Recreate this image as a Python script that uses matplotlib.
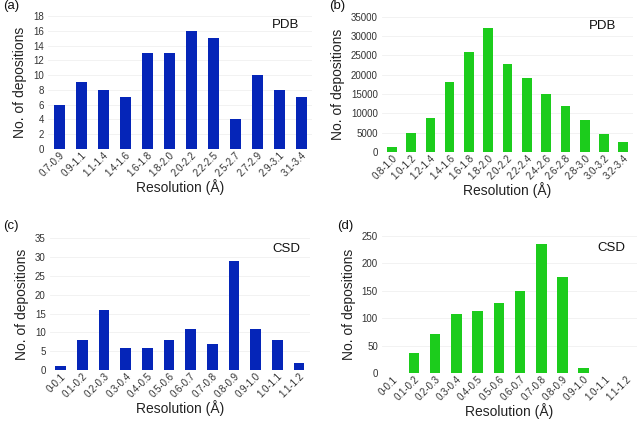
import matplotlib
matplotlib.use("Agg")
import matplotlib.pyplot as plt

plt.rcParams["font.family"] = ["Liberation Sans", "DejaVu Sans"]

BLUE = "#0525b8"
GREEN = "#1ccc1c"

# (a) PDB, small set
pdb_a_labels = ["0.7-0.9", "0.9-1.1", "1.1-1.4", "1.4-1.6", "1.6-1.8", "1.8-2.0",
                "2.0-2.2", "2.2-2.5", "2.5-2.7", "2.7-2.9", "2.9-3.1", "3.1-3.4"]
pdb_a_counts = [6, 9, 8, 7, 13, 13, 16, 15, 4, 10, 8, 7]

# (b) PDB, all
pdb_b_labels = ["0.8-1.0", "1.0-1.2", "1.2-1.4", "1.4-1.6", "1.6-1.8", "1.8-2.0",
                "2.0-2.2", "2.2-2.4", "2.4-2.6", "2.6-2.8", "2.8-3.0", "3.0-3.2",
                "3.2-3.4"]
pdb_b_counts = [1300, 5000, 8800, 18000, 25800, 32200, 22700, 19200, 15100,
                12000, 8300, 4600, 2500]

# (c) CSD, small set
csd_labels = ["0-0.1", "0.1-0.2", "0.2-0.3", "0.3-0.4", "0.4-0.5", "0.5-0.6",
              "0.6-0.7", "0.7-0.8", "0.8-0.9", "0.9-1.0", "1.0-1.1", "1.1-1.2"]
csd_c_counts = [1, 8, 16, 6, 6, 8, 11, 7, 29, 11, 8, 2]

# (d) CSD, all
csd_d_counts = [1, 36, 71, 108, 113, 128, 150, 235, 175, 9, 0, 1]

fig = plt.figure(figsize=(6.4, 4.23), dpi=100)

panels = [
    # rect, labels, counts, color, yticks, tag, db, tag_xy, db_xy
    ([0.075, 0.648, 0.4125, 0.314], pdb_a_labels, pdb_a_counts, BLUE,
     range(0, 19, 2), "(a)", "PDB", (0.005, 0.985), (0.90, 0.93)),
    ([0.597, 0.641, 0.392, 0.319], pdb_b_labels, pdb_b_counts, GREEN,
     range(0, 35001, 5000), "(b)", "PDB", (0.515, 0.985), (0.88, 0.93)),
    ([0.078, 0.125, 0.406, 0.312], csd_labels, csd_c_counts, BLUE,
     range(0, 36, 5), "(c)", "CSD", (0.005, 0.466), (0.91, 0.92)),
    ([0.597, 0.118, 0.398, 0.324], csd_labels, csd_d_counts, GREEN,
     range(0, 251, 50), "(d)", "CSD", (0.527, 0.466), (0.90, 0.91)),
]

for rect, labels, counts, color, yticks, tag, db, tag_xy, db_xy in panels:
    ax = fig.add_axes(rect)
    x = range(len(labels))
    ax.bar(x, counts, width=0.5, color=color, zorder=2)
    ax.set_xlim(-0.5, len(labels) - 0.5)
    ax.set_ylim(0, max(yticks))
    ax.set_yticks(list(yticks))
    ax.set_xticks(list(x))
    ax.set_xticklabels(labels, rotation=45, ha="right", rotation_mode="anchor",
                       fontsize=7, color="#333333")
    ax.tick_params(axis="y", labelsize=7, labelcolor="#333333", length=0, pad=3)
    ax.tick_params(axis="x", length=0, pad=1)
    ax.grid(axis="y", color="#f0f0f0", linewidth=0.6, zorder=0)
    for s in ax.spines.values():
        s.set_visible(False)
    ax.set_ylabel("No. of depositions", fontsize=10, color="#222222")
    ax.set_xlabel("Resolution (Å)", fontsize=10, color="#222222", labelpad=0)
    ax.text(db_xy[0], db_xy[1], db, transform=ax.transAxes, ha="center",
            va="center", fontsize=9.5, color="#111111")
    fig.text(tag_xy[0], tag_xy[1], tag, ha="left", va="center", fontsize=9.5,
             color="#111111")

fig.savefig("out.png", dpi=100)
